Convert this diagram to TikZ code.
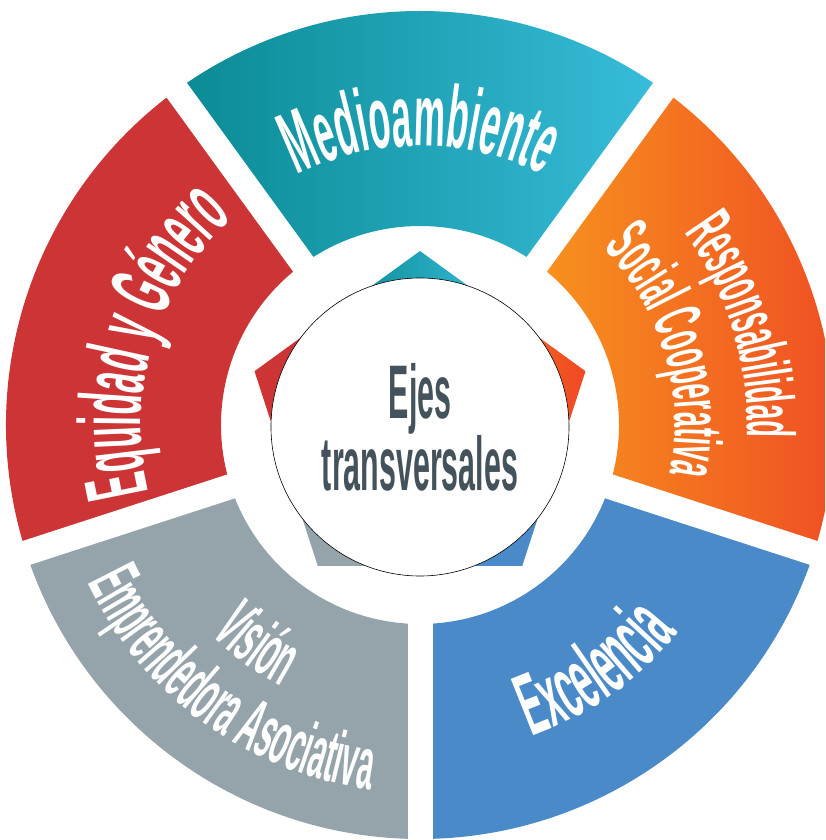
\documentclass[tikz,border=0pt]{standalone}
\usepackage{fontspec}
\newfontfamily\segfont[FakeStretch=0.40]{Liberation Sans}
\newfontfamily\hubfont[FakeStretch=0.40]{Liberation Sans}
\usetikzlibrary{decorations.text}

\definecolor{tealL}{HTML}{0A8A93}
\definecolor{tealR}{HTML}{38BDDB}
\definecolor{orangeL}{HTML}{F7931E}
\definecolor{orangeR}{HTML}{EF4824}
\definecolor{exblue}{HTML}{4A8AC8}
\definecolor{visgray}{HTML}{95A4AA}
\definecolor{eqred}{HTML}{CC3435}
\definecolor{ejesink}{HTML}{44525B}

\newcommand\bigseg{\segfont\bfseries\fontsize{88}{88}\selectfont}
\newcommand\exseg{\segfont\bfseries\fontsize{88}{88}\selectfont}
\newcommand\respseg{\segfont\bfseries\fontsize{68}{68}\selectfont}
\newcommand\visseg{\segfont\bfseries\fontsize{74}{74}\selectfont}

\tikzset{
  segtext/.style={decorate, decoration={text along path, text align=center,
      text color=white, text={#1}}},
  hub/.style={circle, draw=black, line width=0.6pt, fill=white, inner sep=0pt,
      minimum size=298pt, align=center, text=ejesink,
      font=\hubfont\bfseries\fontsize{76}{56}\selectfont}
}

\begin{document}
\begin{tikzpicture}[x=1pt,y=1pt]
  \useasboundingbox (-420,-415) rectangle (405,425);
  \clip (-420,-415) rectangle (405,425);

  % ring
  \shade[left color=tealL, right color=tealR] (54:414) arc[start angle=54, end angle=126, radius=414]
    -- (126:199) arc[start angle=126, end angle=54, radius=199] -- cycle;
  \shade[left color=orangeL, right color=orangeR] (-18:414) arc[start angle=-18, end angle=54, radius=414]
    -- (54:199) arc[start angle=54, end angle=-18, radius=199] -- cycle;
  \foreach \a/\c in {162/eqred, -54/exblue, -126/visgray}
    \fill[\c] (\a-36:414) arc[start angle=\a-36, end angle=\a+36, radius=414]
      -- (\a+36:199) arc[start angle=\a+36, end angle=\a-36, radius=199] -- cycle;
  \foreach \g in {126,54,-18,-90,198}
    \draw[white, line width=25] (0,0) -- (\g:440);

  % pentagon behind the hub
  \shade[left color=tealL, right color=tealR] (0,0) -- (54:140.8) -- (90:174) -- (126:140.8) -- cycle;
  \shade[left color=orangeL, right color=orangeR] (0,0) -- (-18:140.8) -- (18:174) -- (54:140.8) -- cycle;
  \foreach \a/\c in {162/eqred, -54/exblue, -126/visgray}
    \fill[\c] (0,0) -- (\a-36:140.8) -- (\a:174) -- (\a+36:140.8) -- cycle;

  \node[hub] (ejes) at (0,-2) {Ejes\\transversales};

  % labels
  \path[segtext={|\bigseg|Medioambiente}] (150:279) arc[start angle=150, end angle=30, radius=279];
  \path[segtext={|\bigseg|Equidad y Género}] (223:279) arc[start angle=223, end angle=103, radius=279];
  \path[segtext={|\respseg|Responsabilidad}] (77:327) arc[start angle=77, end angle=-43, radius=327];
  \path[segtext={|\respseg|Social Cooperativa}] (76.5:255) arc[start angle=76.5, end angle=-43.5, radius=255];
  \path[segtext={|\exseg|Excelencia}] (-114.5:331) arc[start angle=-114.5, end angle=5.5, radius=331];
  \path[segtext={|\visseg|Visión}] (173.5:296) arc[start angle=173.5, end angle=293.5, radius=296];
  \path[segtext={|\visseg|Emprendedora Asociativa}] (173.8:368) arc[start angle=173.8, end angle=293.8, radius=368];
\end{tikzpicture}
\end{document}
